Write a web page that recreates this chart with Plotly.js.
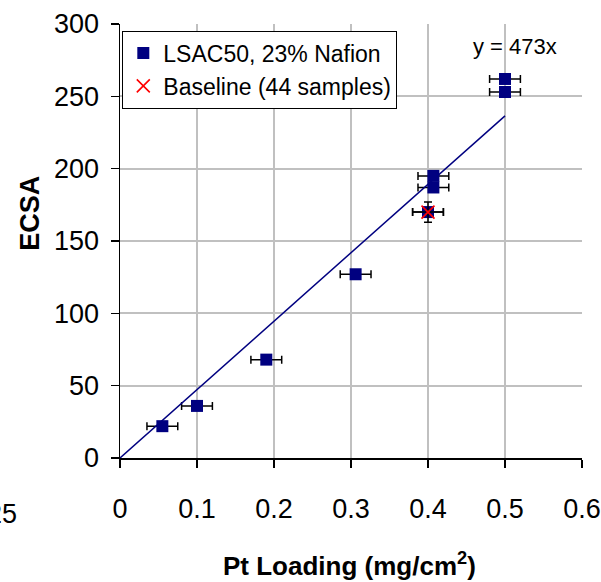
<!DOCTYPE html>
<html>
<head>
<meta charset="utf-8">
<script src="https://cdn.plot.ly/plotly-3.0.1.min.js"></script>
<style>html,body{margin:0;padding:0;background:#fff;}#chart{width:601px;height:582px;}</style>
</head>
<body>
<div id="chart"></div>
<script>
// Data
const lsacX = [0.055, 0.100, 0.190, 0.306, 0.400, 0.407, 0.407, 0.500, 0.500];
const lsacY = [22, 36, 68, 127, 170, 187, 195, 253, 262];
const lsacXErr = [0.02, 0.02, 0.02, 0.02, 0.02, 0.02, 0.02, 0.02, 0.02];

const baseX = [0.400];
const baseY = [170];
const baseXErr = [0.02];
const baseYErr = [7];

const slope = 473;
const fitX = [0, 0.5];
const fitY = fitX.map(v => slope * v);

const xTicks = [0, 0.1, 0.2, 0.3, 0.4, 0.5, 0.6];
const xTickText = ['0', '0.1', '0.2', '0.3', '0.4', '0.5', '0.6'];
const yTicks = [0, 50, 100, 150, 200, 250, 300];

const FONT = 'Liberation Sans, Arial, sans-serif';
const NARROW = 'Liberation Sans Narrow, Arial Narrow, Liberation Sans, sans-serif';

const traces = [
  {
    x: lsacX, y: lsacY, type: 'scatter', mode: 'markers',
    name: 'LSAC50, 23% Nafion',
    marker: {symbol: 'square', size: 12, color: '#000080'},
    error_x: {type: 'data', array: lsacXErr, visible: true, color: '#000', thickness: 1.5, width: 4}
  },
  {
    x: fitX, y: fitY, type: 'scatter', mode: 'lines',
    showlegend: false, hoverinfo: 'skip',
    line: {color: '#000080', width: 1.5}
  },
  {
    x: baseX, y: baseY, type: 'scatter', mode: 'markers',
    name: 'Baseline (44 samples)',
    marker: {symbol: 'x-thin', size: 13, color: '#ff0000', line: {color: '#ff0000', width: 1.6}},
    error_x: {type: 'data', array: baseXErr, visible: true, color: '#000', thickness: 1.5, width: 4},
    error_y: {type: 'data', array: baseYErr, visible: true, color: '#000', thickness: 1.5, width: 4}
  }
];

const layout = {
  width: 601, height: 582,
  margin: {l: 119.5, r: 18.5, t: 24, b: 124},
  paper_bgcolor: '#fff', plot_bgcolor: '#fff',
  font: {family: FONT, size: 23, color: '#000'},
  showlegend: true,
  legend: {
    x: 0.005, y: 0.985, xanchor: 'left', yanchor: 'top',
    bgcolor: '#fff', bordercolor: '#000', borderwidth: 1,
    font: {family: FONT, size: 23, color: '#000'},
    itemwidth: 30, tracegroupgap: 0
  },
  xaxis: {
    range: [0, 0.6], tickvals: xTicks, ticktext: xTickText,
    showgrid: true, gridcolor: '#c0c0c0', gridwidth: 2,
    showline: true, linecolor: '#000', linewidth: 1.5,
    ticks: 'outside', ticklen: 8, tickcolor: '#000', tickwidth: 1.5,
    ticklabelstandoff: 18, zeroline: false,
    tickfont: {family: NARROW, size: 27}
  },
  yaxis: {
    range: [0, 300], tickvals: yTicks,
    showgrid: true, gridcolor: '#c0c0c0', gridwidth: 2,
    showline: true, linecolor: '#000', linewidth: 1.5,
    ticks: 'outside', ticklen: 8, tickcolor: '#000', tickwidth: 1.5,
    ticklabelstandoff: 6, zeroline: false,
    tickfont: {family: NARROW, size: 27}
  },
  annotations: [
    {xref: 'paper', yref: 'paper', x: 0.855, y: 0.948, xanchor: 'center', yanchor: 'middle',
     text: 'y = 473x', showarrow: false, font: {family: FONT, size: 22, color: '#000'}},
    {xref: 'paper', yref: 'paper', x: -0.218, y: -0.128, xanchor: 'right', yanchor: 'middle',
     text: '25', showarrow: false, font: {family: NARROW, size: 27, color: '#000'}},
    {xref: 'paper', yref: 'paper', x: 0.497, y: -0.245, xanchor: 'center', yanchor: 'middle',
     text: '<b>Pt Loading (mg/cm<sup>2</sup>)</b>', showarrow: false, font: {family: FONT, size: 26, color: '#000'}},
    {xref: 'paper', yref: 'paper', x: -0.195, y: 0.565, xanchor: 'center', yanchor: 'middle', textangle: -90,
     text: '<b>ECSA</b>', showarrow: false, font: {family: FONT, size: 27, color: '#000'}}
  ]
};

Plotly.newPlot('chart', traces, layout, {displayModeBar: false, staticPlot: true});
</script>
</body>
</html>
